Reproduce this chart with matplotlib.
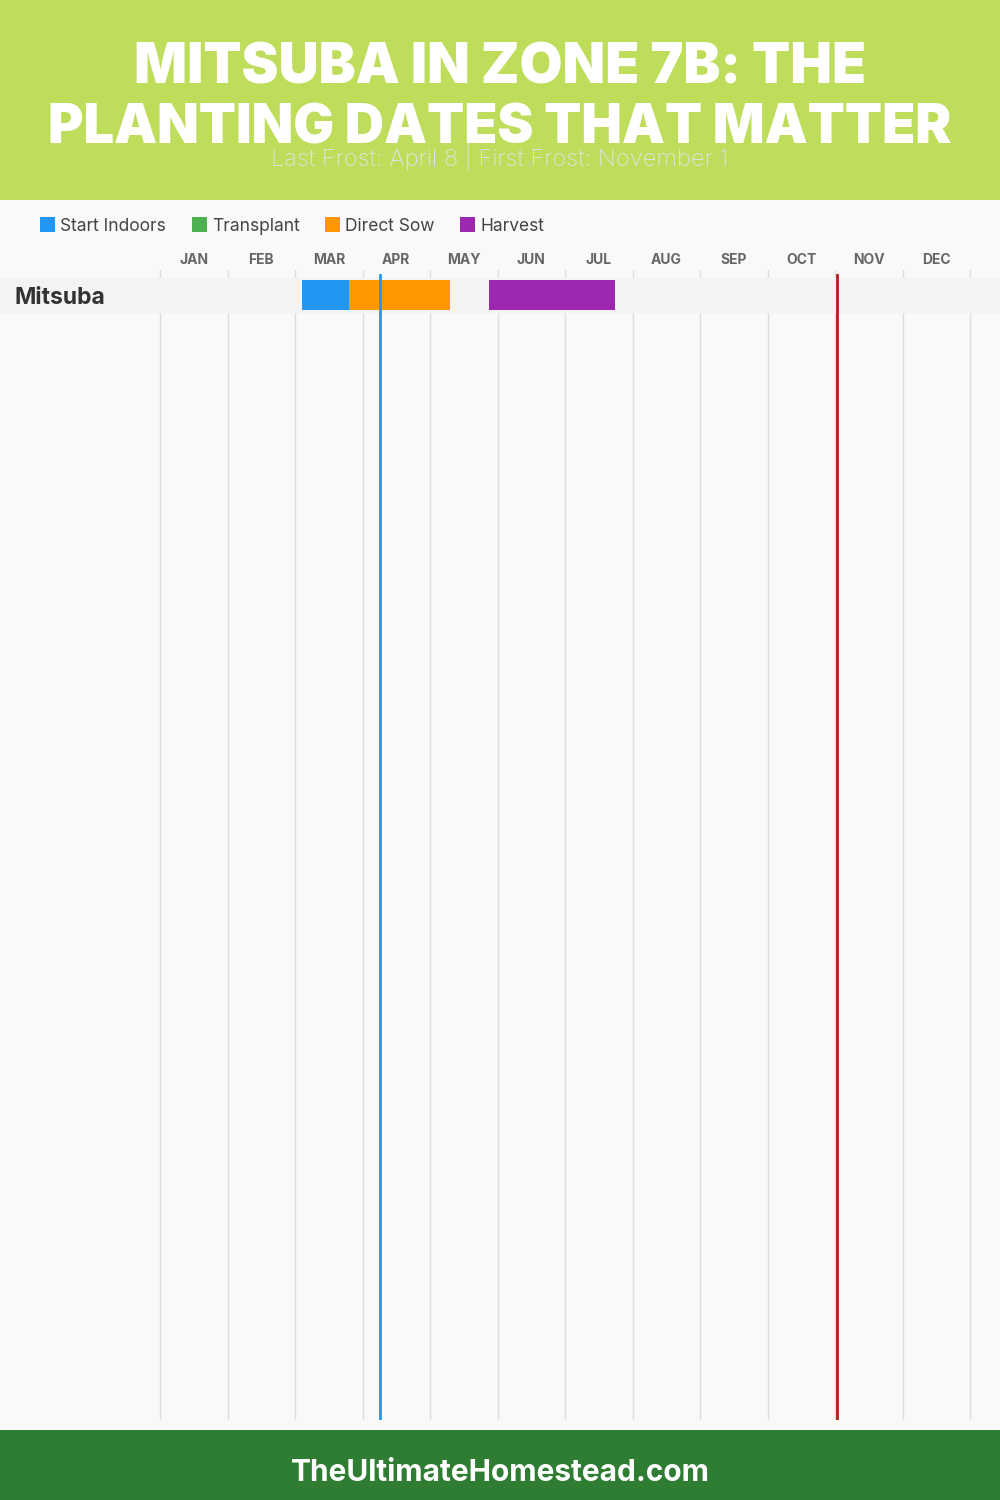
import matplotlib
matplotlib.use('Agg')
import matplotlib.pyplot as plt
from matplotlib.patches import Rectangle
from matplotlib.transforms import blended_transform_factory

# Dữ liệu (month units, 0 = Jan 1, 12 = Dec 31)
months = ['JAN', 'FEB', 'MAR', 'APR', 'MAY', 'JUN', 'JUL', 'AUG', 'SEP', 'OCT', 'NOV', 'DEC']
crops = ['Mitsuba']
phases = ['Start Indoors', 'Transplant', 'Direct Sow', 'Harvest']
phase_colors = ['#2196F3', '#4CAF50', '#FF9800', '#9C27B0']
start_indoors = [(2.10, 2.80)]
transplant = [None]
direct_sow = [(2.80, 4.30)]
harvest = [(4.87, 6.74)]
last_frost = 3.26    # April 8
first_frost = 10.03  # November 1

W, H = 1000, 1500
fig = plt.figure(figsize=(10, 15), dpi=100)
fig.patch.set_facecolor('#F9F9F7')

def fy(py):
    return 1 - py / H

# header / footer
fig.patches.append(Rectangle((0, fy(200)), 1, 200 / H, transform=fig.transFigure,
                             facecolor='#BEDD5A', edgecolor='none', zorder=0))
fig.patches.append(Rectangle((0, 0), 1, 70 / H, transform=fig.transFigure,
                             facecolor='#2E7D32', edgecolor='none', zorder=0))

title_font = ['Inter', 'DejaVu Sans']
fig.text(0.5, fy(68), 'MITSUBA IN ZONE 7B: THE', ha='center', va='center',
         color='white', fontsize=40, fontweight='black', family=title_font)
fig.text(0.5, fy(129), 'PLANTING DATES THAT MATTER', ha='center', va='center',
         color='white', fontsize=39, fontweight='black', family=title_font)
fig.text(0.5, fy(157), 'Last Frost: April 8 | First Frost: November 1', ha='center', va='center',
         color='#E2E2E2', fontsize=17, fontweight='light', family=['Inter', 'DejaVu Sans'])
fig.text(0.5, fy(1473), 'TheUltimateHomestead.com', ha='center', va='center',
         color='white', fontsize=21.5, fontweight='bold', family=['Inter', 'DejaVu Sans'])

# legend
leg_x = [40, 192, 325, 460]
for x, name, c in zip(leg_x, phases, phase_colors):
    fig.patches.append(Rectangle((x / W, fy(232)), 15 / W, 15 / H, transform=fig.transFigure,
                                 facecolor=c, edgecolor='none'))
    fig.text((x + 20) / W, fy(226.5), name, ha='left', va='center', color='#444444',
             fontsize=12.5, family=['Inter', 'DejaVu Sans'])

# main axes: pixels 0..1000 horizontally, 270..1420 vertically
ax = fig.add_axes([0, fy(1420), 1, (1420 - 270) / H])
ax.set_facecolor('none')
px_per_month = (970 - 160) / 12
ax.set_xlim(-160 / px_per_month, 12 + 30 / px_per_month)
ax.set_ylim(1150, 0)
ax.axis('off')

# month grid lines
for m in range(13):
    ax.axvline(m, color='#DDDDDD', linewidth=1, zorder=1)
for m, lab in enumerate(months):
    ax.text(m + 0.5, -10, lab, ha='center', va='center', color='#666666',
            fontsize=10, fontweight='bold', family=['Inter', 'DejaVu Sans'], clip_on=False)

# rows
for i, crop in enumerate(crops):
    yc = 25 + i * 40
    ax.axhspan(yc - 17, yc + 17, color='#F3F3F3', zorder=2)
    ax.text(15 / W, yc + 3, crop, transform=blended_transform_factory(fig.transFigure, ax.transData),
            ha='left', va='center', color='#333333', fontsize=16.5, fontweight='bold',
            family=['Inter', 'DejaVu Sans'])
    for series, c in zip([start_indoors, transplant, direct_sow, harvest], phase_colors):
        span = series[i]
        if span is None:
            continue
        ax.barh(yc, span[1] - span[0], left=span[0], height=30, color=c, zorder=3)

# frost lines
ax.plot([last_frost, last_frost], [5, 1150], color='#2196F3', linewidth=2, zorder=4)
ax.plot([first_frost, first_frost], [5, 1150], color='#B71C1C', linewidth=2, zorder=4)

fig.savefig('out.png', dpi=100, facecolor=fig.get_facecolor())
